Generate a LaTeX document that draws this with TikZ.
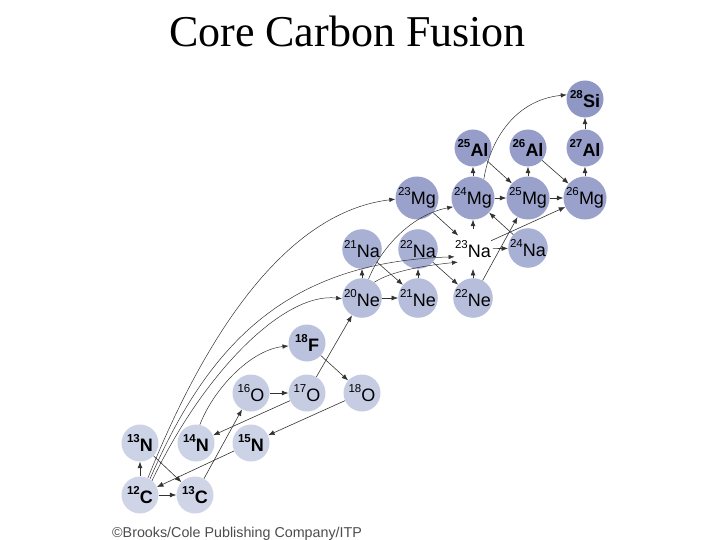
\documentclass[tikz,border=0pt]{standalone}
\usepackage{fontspec}
\setmainfont{Liberation Sans}
\newfontfamily\titlefont{Liberation Serif}
\usetikzlibrary{arrows.meta}
\definecolor{cC}{HTML}{CFD5E7}
\definecolor{cN}{HTML}{CCD3E6}
\definecolor{cO}{HTML}{C6CDE3}
\definecolor{cF}{HTML}{BAC2DE}
\definecolor{cNe}{HTML}{B6BEDB}
\definecolor{cNa}{HTML}{A8B0D4}
\definecolor{cMg}{HTML}{9AA2CB}
\definecolor{cAl}{HTML}{959DC8}
\definecolor{cSi}{HTML}{8F98C5}
\definecolor{lnc}{HTML}{333333}
\newcommand{\iso}[2]{\raisebox{8.5pt}{\fontsize{11.5}{12}\selectfont #1}\kern0.2pt#2}
\newcommand{\isob}[2]{{\bfseries\raisebox{8.5pt}{\fontsize{11.5}{12}\selectfont #1}\kern0.2pt#2}}
\begin{document}
\begin{tikzpicture}[x=1pt,y=-1pt,
  nuc/.style={circle,minimum size=37pt,inner sep=0pt,font=\fontsize{18}{19}\selectfont,text=black},
  ar/.style={draw=lnc,line width=0.6pt,-{Latex[length=6.5pt,width=5pt]}},
  cv/.style={draw=lnc,line width=0.5pt,-{Latex[length=6pt,width=4.5pt]}}]
\useasboundingbox (0,0) rectangle (720,540);
\node[font=\titlefont\fontsize{44}{48}\selectfont,anchor=base] (title) at (347.5,47) {Core Carbon Fusion};
\node[font=\fontsize{14.3}{16}\selectfont,text=black!70,anchor=base west,inner sep=0pt] (credit) at (112,537) {\textcopyright Brooks/Cole Publishing Company/ITP};
% nuclei
\node[nuc,fill=cC] (C12) at (140,495) {\isob{12}{C}};
\node[nuc,fill=cC] (C13) at (195,495) {\isob{13}{C}};
\node[nuc,fill=cN] (N13) at (140,443) {\isob{13}{N}};
\node[nuc,fill=cN] (N14) at (196,443) {\isob{14}{N}};
\node[nuc,fill=cN] (N15) at (251,443) {\isob{15}{N}};
\node[nuc,fill=cO] (O16) at (251,393) {\iso{16}{O}};
\node[nuc,fill=cO] (O17) at (307,393) {\iso{17}{O}};
\node[nuc,fill=cO] (O18) at (362,393) {\iso{18}{O}};
\node[nuc,fill=cF] (F18) at (307,343) {\isob{18}{F}};
\node[nuc,fill=cNe] (Ne20) at (362,298) {\iso{20}{Ne}};
\node[nuc,fill=cNe] (Ne21) at (418,298) {\iso{21}{Ne}};
\node[nuc,fill=cNe] (Ne22) at (473,298) {\iso{22}{Ne}};
\node[nuc,fill=cNa] (Na21) at (362,249) {\iso{21}{Na}};
\node[nuc,fill=cNa] (Na22) at (418,249) {\iso{22}{Na}};
\node[nuc] (Na23) at (473,249) {\iso{23}{Na}};
\node[nuc,fill=cNa] (Na24) at (528,248) {\iso{24}{Na}};
\node[nuc,fill=cMg] (Mg23) at (417,198) {\iso{23}{Mg}};
\node[nuc,fill=cMg] (Mg24) at (473,198) {\iso{24}{Mg}};
\node[nuc,fill=cMg] (Mg25) at (528,198) {\iso{25}{Mg}};
\node[nuc,fill=cMg] (Mg26) at (585,198) {\iso{26}{Mg}};
\node[nuc,fill=cAl] (Al25) at (473,148) {\isob{25}{Al}};
\node[nuc,fill=cAl] (Al26) at (528,148) {\isob{26}{Al}};
\node[nuc,fill=cAl] (Al27) at (585,148) {\isob{27}{Al}};
\node[nuc,fill=cSi] (Si28) at (585,99) {\isob{28}{Si}};
% straight connectors
\draw[ar] (C12) -- (N13);
\draw[ar] (C12) -- (C13);
\draw[ar] (N13) -- (C13);
\draw[ar] (C13) -- (O16);
\draw[ar] (N15) -- (C12);
\draw[ar] (O17) -- (N14);
\draw[ar] (O18) -- (N15);
\draw[ar] (O16) -- (O17);
\draw[ar] (O17) -- (Ne20);
\draw[ar] (F18) -- (O18);
\draw[ar] (Ne20) -- (Ne21);
\draw[ar] (Ne20) -- (Na21);
\draw[ar] (Na21) -- (Ne21);
\draw[ar] (Ne21) -- (Na22);
\draw[ar] (Na22) -- (Ne22);
\draw[ar] (Ne22) -- (Na23);
\draw[ar] (Mg23) -- (Na23);
\draw[ar] (Na23) -- (Mg24);
\draw[ar] (Na23) -- (Na24);
\draw[ar] (Na24) -- (Mg24);
\draw[ar] (Ne22) -- (Mg25);
\draw[ar] (Na23) -- (Mg26);
\draw[ar] (Mg24) -- (Mg25);
\draw[ar] (Mg25) -- (Mg26);
\draw[ar] (Mg24) -- (Al25);
\draw[ar] (Mg25) -- (Al26);
\draw[ar] (Mg26) -- (Al27);
\draw[ar] (Al27) -- (Si28);
\draw[ar] (Al25) -- (Mg25);
\draw[ar] (Al26) -- (Mg26);
% curved connectors
\draw[cv] (C12.65) .. controls (200,348) and (280,213) .. (Mg23.183);
\draw[cv] (C12.58) .. controls (210,340) and (290,262) .. (Na23.203);
\draw[cv] (C12.50) .. controls (205,370) and (285,292) .. (Ne20.182);
\draw[cv] (N14.78) .. controls (213,390) and (250,350) .. (F18.189);
\draw[cv] (Ne20.71) .. controls (380,250) and (410,215) .. (Mg24.204);
\draw[cv] (Ne20.52) .. controls (390,272) and (420,266) .. (Na23.221);
\draw[cv] (Mg24.60) .. controls (490,140) and (515,100) .. (Si28.167);
\end{tikzpicture}
\end{document}
